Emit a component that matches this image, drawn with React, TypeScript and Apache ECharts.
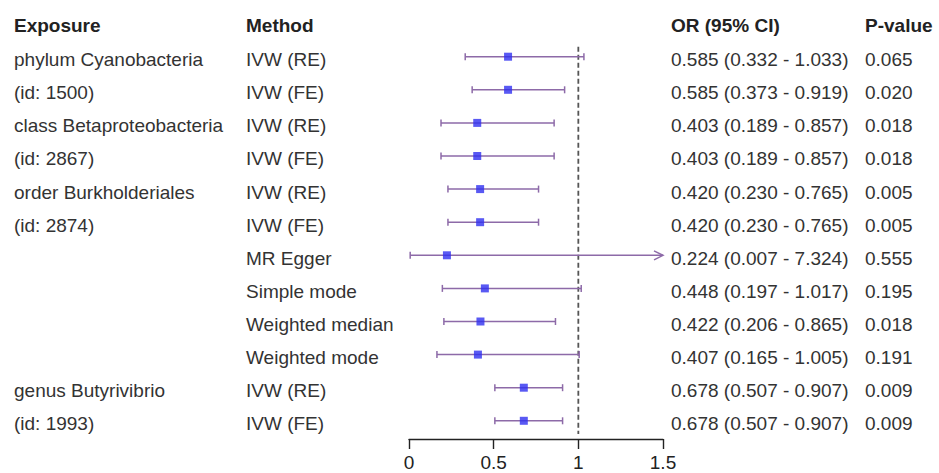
import React, { useEffect, useRef } from "react";
import * as echarts from "echarts";

const headers = ["Exposure", "Method", "OR (95% CI)", "P-value"];
const exposures = [
  "phylum Cyanobacteria", "(id: 1500)",
  "class Betaproteobacteria", "(id: 2867)",
  "order Burkholderiales", "(id: 2874)",
  "", "", "", "",
  "genus Butyrivibrio", "(id: 1993)",
];
const methods = [
  "IVW (RE)", "IVW (FE)", "IVW (RE)", "IVW (FE)", "IVW (RE)", "IVW (FE)",
  "MR Egger", "Simple mode", "Weighted median", "Weighted mode",
  "IVW (RE)", "IVW (FE)",
];
const orValues = [0.585, 0.585, 0.403, 0.403, 0.42, 0.42, 0.224, 0.448, 0.422, 0.407, 0.678, 0.678];
const lowerCI = [0.332, 0.373, 0.189, 0.189, 0.23, 0.23, 0.007, 0.197, 0.206, 0.165, 0.507, 0.507];
const upperCI = [1.033, 0.919, 0.857, 0.857, 0.765, 0.765, 7.324, 1.017, 0.865, 1.005, 0.907, 0.907];
const pValues = ["0.065", "0.020", "0.018", "0.018", "0.005", "0.005", "0.555", "0.195", "0.018", "0.191", "0.009", "0.009"];
const xTicks = [0, 0.5, 1, 1.5];
const refValue = 1;

const FONT = "'Liberation Sans', Arial, Helvetica, sans-serif";
const TEXT_COLOR = "#333333";
const CI_COLOR = "#8d6aa8";
const POINT_COLOR = "#3030f0";

export default function App() {
  const ref = useRef<HTMLDivElement>(null);
  useEffect(() => {
    if (!ref.current) return;
    const chart = echarts.init(ref.current, undefined, { renderer: "svg" });
    const xMin = xTicks[0];
    const xMax = xTicks[xTicks.length - 1];
    const colX = [14, 246, 671, 865];

    const ciData = orValues.map((_, i) => [lowerCI[i], upperCI[i], i]);
    const pointData = orValues.map((v, i) => [v, i]);
    const textData = [[xMin, -1, -1]].concat(methods.map((_, i) => [xMin, i, i]));

    const orText = (i: number) =>
      `${orValues[i].toFixed(3)} (${lowerCI[i].toFixed(3)} - ${upperCI[i].toFixed(3)})`;

    chart.setOption({
      animation: false,
      grid: { left: 409, right: 276, top: 23.6, bottom: 34 },
      xAxis: {
        type: "value",
        position: "bottom",
        min: xMin,
        max: xMax,
        interval: 0.5,
        axisLine: { show: true, onZero: false, lineStyle: { color: "#222", width: 1.4 } },
        axisTick: { show: true, length: 10, lineStyle: { color: "#222", width: 1.4 } },
        axisLabel: {
          fontSize: 19,
          color: "#222",
          fontFamily: FONT,
          margin: 14,
          formatter: (v: number) => String(v),
        },
        splitLine: { show: false },
      },
      yAxis: {
        type: "value",
        inverse: true,
        min: -1,
        max: 11.55,
        show: false,
      },
      series: [
        {
          type: "custom",
          data: [[refValue, -0.3, 11.4]],
          encode: { x: 0, y: [1, 2] },
          clip: false,
          renderItem: (params: any, api: any) => {
            const p1 = api.coord([api.value(0), api.value(1)]);
            const p2 = api.coord([api.value(0), api.value(2)]);
            return {
              type: "line",
              shape: { x1: p1[0], y1: p1[1], x2: p2[0], y2: p2[1] },
              style: { stroke: "#555", lineWidth: 1.8, lineDash: [5, 3] },
            };
          },
        },
        {
          type: "custom",
          data: ciData,
          encode: { x: [0, 1], y: 2 },
          clip: false,
          renderItem: (params: any, api: any) => {
            const lo = api.value(0);
            const hi = api.value(1);
            const row = api.value(2);
            const pL = api.coord([Math.max(lo, xMin), row]);
            const pH = api.coord([Math.min(hi, xMax), row]);
            const st = { stroke: CI_COLOR, lineWidth: 1.5 };
            const children: any[] = [
              { type: "line", shape: { x1: pL[0], y1: pL[1], x2: pH[0], y2: pH[1] }, style: st },
              { type: "line", shape: { x1: pL[0], y1: pL[1] - 3.5, x2: pL[0], y2: pL[1] + 3.5 }, style: st },
            ];
            if (hi > xMax) {
              children.push({
                type: "polyline",
                shape: { points: [[pH[0] - 9, pH[1] - 4.5], [pH[0], pH[1]], [pH[0] - 9, pH[1] + 4.5]] },
                style: { stroke: CI_COLOR, lineWidth: 1.5, fill: "none" },
              });
            } else {
              children.push({
                type: "line",
                shape: { x1: pH[0], y1: pH[1] - 3.5, x2: pH[0], y2: pH[1] + 3.5 },
                style: st,
              });
            }
            return { type: "group", children };
          },
        },
        {
          type: "scatter",
          data: pointData,
          symbol: "rect",
          symbolSize: 8,
          itemStyle: { color: POINT_COLOR },
          z: 5,
        },
        {
          type: "custom",
          data: textData,
          encode: { x: 0, y: 1 },
          clip: false,
          renderItem: (params: any, api: any) => {
            const row = api.value(1);
            const idx = api.value(2);
            const y = api.coord([xMin, row])[1] + 3;
            const isHeader = idx < 0;
            const texts = isHeader
              ? headers
              : [exposures[idx], methods[idx], orText(idx), pValues[idx]];
            return {
              type: "group",
              children: texts.map((t, c) => ({
                type: "text",
                x: colX[c],
                y: isHeader ? y - 1 : y,
                style: {
                  text: t,
                  fontSize: 19,
                  fontFamily: FONT,
                  fontWeight: isHeader ? "bold" : "normal",
                  fill: isHeader ? "#222" : TEXT_COLOR,
                  verticalAlign: "middle",
                  align: "left",
                },
              })),
            };
          },
        },
      ],
    });
    return () => chart.dispose();
  }, []);
  return (
    <div
      ref={ref}
      style={{ position: "fixed", left: 0, top: 0, width: 939, height: 473, background: "#fff" }}
    />
  );
}
